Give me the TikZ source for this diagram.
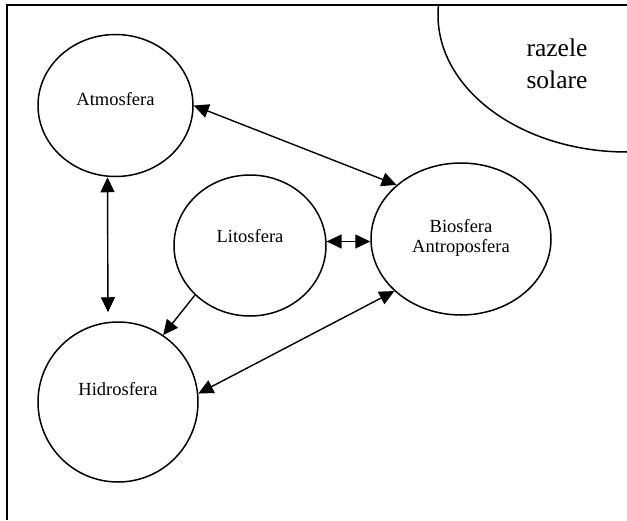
\documentclass[tikz,border=0pt]{standalone}
\usepackage{fontspec}
\setmainfont{Liberation Serif}
\usetikzlibrary{positioning,shapes.geometric,arrows.meta}

\begin{document}
\begin{tikzpicture}[x=1pt,y=-1pt,
    sphere/.style={ellipse,draw,line width=1.5pt,inner sep=0pt},
    word/.style={font=\fontsize{18.5}{20}\selectfont,align=center,inner sep=0pt},
    link/.style={{Triangle[length=15pt,width=14pt]}-{Triangle[length=15pt,width=14pt]},line width=1.4pt}]
    
    \useasboundingbox (0,0) rectangle (627,520);
    
    % sun
    \begin{scope}
    \clip (7,5) rectangle (627,520);
    \node[sphere,minimum width=378pt,minimum height=274pt] (S) at (627,15) {};
    \end{scope}
    \node[word,font=\fontsize{25.5}{32}\selectfont] (St) at (557,64) {razele\\solare};
    \draw[line width=1.5pt] (7,520) -- (7,5) -- (627,5);
    
    % spheres
    \node[sphere,minimum width=155pt,minimum height=142pt] (A) at (115.5,105.5) {};
    \node[sphere,minimum width=152pt,minimum height=141pt] (L) at (250,245.5) {};
    \node[sphere,minimum width=180pt,minimum height=152pt] (B) at (461,239) {};
    \node[sphere,minimum width=160pt,minimum height=160pt] (H) at (118,402) {};
    
    \node[word] (At) at ([yshift=6.5pt]A.center) {Atmosfera};
    \node[word] (Lt) at ([yshift=9.5pt]L.center) {Litosfera};
    \node[word] (Bt) at ([yshift=1.5pt]B.center) {Biosfera\\Antroposfera};
    \node[word] (Ht) at ([yshift=12.5pt]H.center) {Hidrosfera};
    
    % links
    \draw[link] (A.east) -- (B.140);
    \draw[link,shorten >=9pt] ([xshift=-8pt]A.south) -- ([xshift=-10pt]H.north);
    \draw[link] (L.3) -- (L.3 -| B.west);
    \draw[-{Triangle[length=15pt,width=14pt]},line width=1.4pt] (L.222) -- (H.56);
    \draw[link] (H.6) -- (B.218);
    
\end{tikzpicture}
\end{document}
